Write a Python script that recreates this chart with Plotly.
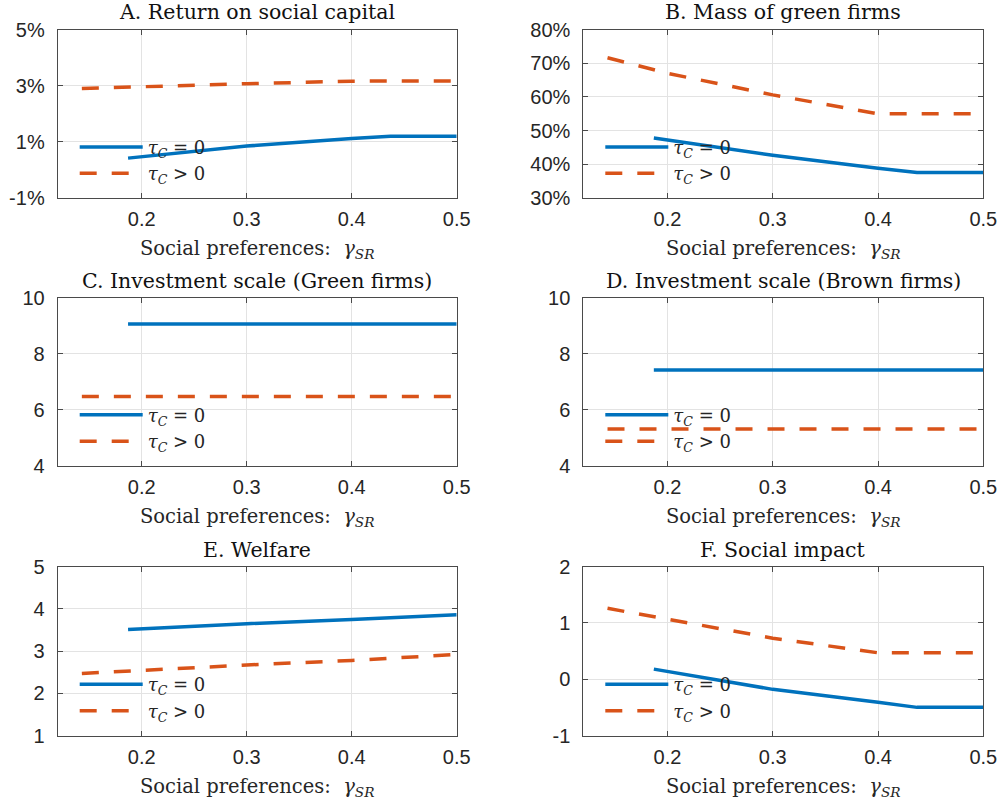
import plotly.graph_objects as go

# ---------------- data ----------------
x_notax = [0.187, 0.3, 0.4, 0.437, 0.5]   # tau_C = 0 (blue)
x_tax = [0.143, 0.2, 0.3, 0.4, 0.5]        # tau_C > 0 (red)

ret_notax = [0.42, 0.85, 1.12, 1.20, 1.20]
ret_tax = [2.90, 2.97, 3.07, 3.16, 3.17]

mass_notax = [47.8, 42.7, 38.8, 37.6, 37.6]
mass_tax = [71.6, 67.0, 60.6, 55.0, 55.0]

invg_notax = [9.06, 9.06, 9.06, 9.06, 9.06]
invg_tax = [6.47, 6.47, 6.47, 6.47, 6.47]

invb_notax = [7.42, 7.42, 7.42, 7.42, 7.42]
invb_tax = [5.31, 5.31, 5.31, 5.31, 5.31]

welf_notax = [3.51, 3.65, 3.75, 3.79, 3.86]
welf_tax = [2.47, 2.55, 2.67, 2.78, 2.92]

imp_notax = [0.18, -0.18, -0.41, -0.50, -0.50]
imp_tax = [1.26, 1.07, 0.73, 0.47, 0.47]

titles = ["A. Return on social capital", "B. Mass of green firms",
          "C. Investment scale (Green firms)", "D. Investment scale (Brown firms)",
          "E. Welfare", "F. Social impact"]
series = [(ret_notax, ret_tax), (mass_notax, mass_tax), (invg_notax, invg_tax),
          (invb_notax, invb_tax), (welf_notax, welf_tax), (imp_notax, imp_tax)]
y_ticks = [[-1, 1, 3, 5], [30, 40, 50, 60, 70, 80], [4, 6, 8, 10], [4, 6, 8, 10],
           [1, 2, 3, 4, 5], [-1, 0, 1, 2]]
y_suffix = ["%", "%", "", "", "", ""]
x_ticks = [0.2, 0.3, 0.4, 0.5]
x_range = [0.12, 0.5]
label_notax = "<i>τ<sub>C</sub></i> = 0"
label_tax = "<i>τ<sub>C</sub></i> > 0"
x_label = "Social preferences:  <i>γ<sub>SR</sub></i>"

# ---------------- layout geometry ----------------
W, H = 1003, 802
col_px = [(57.7, 456.7), (583.3, 983.3)]
row_px = [(29.5, 198.0), (297.7, 465.7), (566.7, 735.5)]

BLUE = "#0072BD"
RED = "#D95319"
AX = "#262626"
FRAME = "#4a4a4a"
GRID = "#e3e3e3"
SERIF = "DejaVu Serif"
SANS = "Liberation Sans"

fig = go.Figure()
layout = dict(width=W, height=H, margin=dict(l=0, r=0, t=0, b=0, autoexpand=False),
              paper_bgcolor="white", plot_bgcolor="white", showlegend=True,
              annotations=[])

for i in range(6):
    r, c = divmod(i, 2)
    n = i + 1
    xs = "" if n == 1 else str(n)
    x0, x1 = col_px[c]
    yt, yb = row_px[r]
    xdom = [x0 / W, x1 / W]
    ydom = [1 - yb / H, 1 - yt / H]
    leg = "legend" if n == 1 else f"legend{n}"
    yn, yy = series[i]
    fig.add_trace(go.Scatter(x=x_notax, y=yn, mode="lines", name=label_notax,
                             line=dict(color=BLUE, width=3.5),
                             xaxis="x" + xs, yaxis="y" + xs, legend=leg))
    fig.add_trace(go.Scatter(x=x_tax, y=yy, mode="lines", name=label_tax,
                             line=dict(color=RED, width=3.5, dash="17px,15px"),
                             xaxis="x" + xs, yaxis="y" + xs, legend=leg))
    common = dict(showline=True, linecolor=FRAME, linewidth=1, mirror="allticks",
                  ticks="inside", ticklen=5, tickcolor=FRAME, showgrid=True,
                  gridcolor=GRID, gridwidth=1, zeroline=False, automargin=False,
                  tickfont=dict(family=SANS, size=20, color=AX))
    layout["xaxis" + xs] = dict(domain=xdom, range=x_range, tickvals=x_ticks,
                                ticktext=[f"{v:.1f}" for v in x_ticks],
                                anchor="y" + xs, ticklabelstandoff=3,
                                title=dict(text=x_label, standoff=12,
                                           font=dict(family=SERIF, size=19.5, color=AX)),
                                **common)
    ylo, yhi = y_ticks[i][0], y_ticks[i][-1]
    layout["yaxis" + xs] = dict(domain=ydom, range=[ylo, yhi], tickvals=y_ticks[i],
                                ticktext=[f"{v}{y_suffix[i]}" for v in y_ticks[i]],
                                anchor="x" + xs, ticklabelstandoff=8, **common)
    layout[leg] = dict(x=(x0 + 17) / W, y=1 - (yt + 0.589 * (yb - yt)) / H,
                       xanchor="left", yanchor="top", bgcolor="rgba(0,0,0,0)",
                       itemwidth=63, font=dict(family=SERIF, size=18, color=AX),
                       tracegroupgap=0)
    layout["annotations"].append(dict(text=titles[i], x=(x0 + x1) / 2 / W,
                                      y=1 - (yt - 17) / H, xref="paper", yref="paper",
                                      xanchor="center", yanchor="middle", showarrow=False,
                                      font=dict(family=SERIF, size=20.5, color="#111111")))

fig.update_layout(**layout)
# remove the default 8px page margin so the figure fills the window exactly
fig.write_html("out.html", config={"displayModeBar": False},
               post_script="document.body.style.margin='0';")
